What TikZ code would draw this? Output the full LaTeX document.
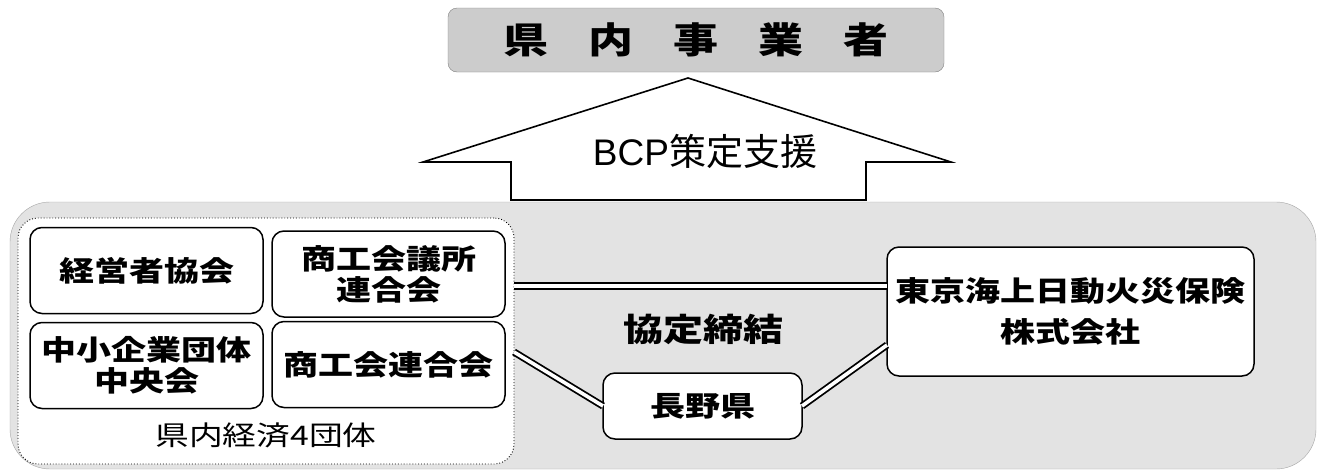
\documentclass[tikz,border=0pt]{standalone}
\usepackage{fontspec}
\setmainfont{Noto Sans CJK JP}[FakeStretch=1.25]
\newfontfamily\plainjp{Noto Sans CJK JP}
\newfontfamily\arialike{Liberation Sans}
\usetikzlibrary{calc}

\newcommand{\member}[4] % name, x in px, y in px, text
{
	% one of the four economic groups
	\node[box, minimum width=233pt, minimum height=86pt] (#1) at (#2,#3) {#4};
}

\begin{document}
\begin{tikzpicture}[x=1pt, y=-1pt,
	box/.style={draw, line width=1.5pt, rounded corners=12pt, fill=white, inner sep=0pt, outer sep=0pt, align=center, font=\bfseries\fontsize{28}{31}\selectfont},
	musubi/.style={draw, double, double distance=3.6pt, line width=1.8pt}]
	% 1322px x 472px
	\useasboundingbox (0,0) rectangle (1322,472);
	% businesses in the prefecture
	\node[draw=gray, fill=black!20, rounded corners=9pt, minimum width=496pt, minimum height=64pt, inner sep=0pt, font=\bfseries\fontsize{36}{36}\selectfont] (jigyosha) at (696,40) {県\hspace{40pt}内\hspace{40pt}事\hspace{40pt}業\hspace{40pt}者};
	% outer frame
	\draw[draw=gray!70, fill=black!11, rounded corners=40pt] (10,202) rectangle (1316,469);
	% support arrow
	\draw[line width=1.6pt, fill=white] (688,78) -- (951,162) -- (866,162) -- (866,200) -- (511,200) -- (511,162) -- (423,162) -- cycle;
	\node[font=\plainjp\fontsize{37}{37}\selectfont] (shien) at (705,151) {{\arialike BCP}策定支援};
	% four economic groups
	\node[draw, dotted, line width=0.9pt, rounded corners=20pt, fill=white, minimum width=496pt, minimum height=246pt, inner sep=0pt, outer sep=0pt] (dantai) at (266,341) {};
	\member{keiei}{146.5}{270.5}{経営者協会}
	\member{shoko}{388.5}{274}{商工会議所\\連合会}
	\member{chusho}{146.5}{365.5}{\fontsize{28}{34}\selectfont 中小企業団体\\中央会}
	\member{shokoren}{388.5}{364.5}{商工会連合会}
	\node[font=\fontsize{27}{27}\selectfont] (dantailbl) at (266,435) {県内経済4団体};
	% prefecture and insurer
	\node[box, minimum width=199pt, minimum height=66pt] (nagano) at (702.5,406) {長野県};
	\node[box, minimum width=367pt, minimum height=129pt, font=\bfseries\fontsize{28}{41}\selectfont] (tokio) at (1070.5,311.5) {東京海上日動火災保険\\株式会社};
	\node[font=\bfseries\fontsize{32}{32}\selectfont] (kyotei) at (703,329) {協定締結};
	% agreement lines
	\draw[musubi] ([yshift=55pt]dantai.east) -- ([yshift=55pt]dantai.east -| tokio.west);
	\draw[musubi] ([yshift=-11pt]dantai.east) -- (nagano.west);
	\draw[musubi] (nagano.east) -- ([yshift=-33.5pt]tokio.west);
\end{tikzpicture}
\end{document}
